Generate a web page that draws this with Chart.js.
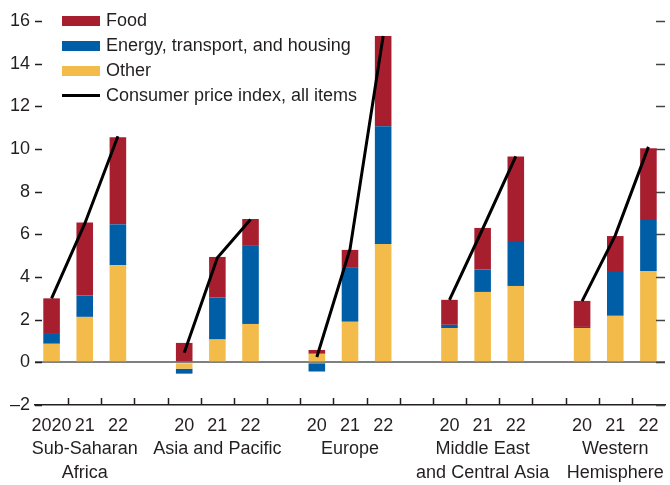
<!DOCTYPE html>
<html>
<head>
<meta charset="utf-8">
<script src="https://cdn.jsdelivr.net/npm/chart.js@4.4.1/dist/chart.umd.min.js"></script>
<style>
  body { margin: 0; background: #fff; }
  #wrap { position: relative; width: 670px; height: 485px; }
  #legend {
    position: absolute; left: 62px; top: 8px;
    font: 18px 'Liberation Sans Narrow', 'Arial Narrow', 'Liberation Sans', sans-serif;
    color: #231f20;
  }
  .item { display: flex; align-items: center; height: 25px; white-space: nowrap; }
  .swatch { width: 38px; height: 10px; margin-right: 6px; }
  .swatch.line { height: 3px; }
</style>
</head>
<body>
<div id="wrap">
  <canvas id="chart" width="670" height="485"></canvas>
  <div id="legend"></div>
</div>
<script>
// regions, each with 2020, 21, 22
const regions = [
    ['Sub-Saharan', 'Africa'],
    ['Asia and Pacific'],
    ['Europe'],
    ['Middle East', 'and Central Asia'],
    ['Western', 'Hemisphere']
];
const years = ['20', '21', '22'];

// contributions, percentage points (3 per region)
const otherValues  = [0.87, 2.13, 4.55,  -0.30, 1.07, 1.80,   0.40, 1.90, 5.55,  1.61, 3.30, 3.58,  1.61, 2.18, 4.28];
const energyValues = [0.46, 1.01, 1.92,  -0.23, 1.97, 3.66,  -0.43, 2.53, 5.52,  0.15, 1.05, 2.11,  0.05, 2.10, 2.39];
const foodValues   = [1.67, 3.41, 4.08,   0.91, 1.90, 1.26,   0.18, 0.84, 4.23,  1.17, 1.95, 3.96,  1.22, 1.64, 3.36];
const cpiValues    = [3.00, 6.50, 10.60,  0.45, 4.90, 6.70,   0.25, 5.30, 15.30, 2.93, 6.25, 9.65,  2.87, 5.95, 10.10];

const colors = { food: '#a71f2f', energy: '#005ea6', other: '#f3bb4a', cpi: '#000000' };
const FONT = "'Liberation Sans Narrow', 'Arial Narrow', 'Liberation Sans', sans-serif";

// put an empty slot between regions
function withGaps(values) {
    const out = [];
    regions.forEach((r, i) => {
        out.push(...values.slice(i * 3, i * 3 + 3));
        if (i < regions.length - 1) out.push(null);
    });
    return out;
}

const labels = [];
regions.forEach((r, i) => {
    labels.push(i === 0 ? '2020' : years[0]);
    labels.push([years[1], ...r]);
    labels.push(years[2]);
    if (i < regions.length - 1) labels.push('');
});

const barStyle = { type: 'bar', barPercentage: 0.5, categoryPercentage: 1, order: 1 };

const datasets = [
    { ...barStyle, label: 'Other', data: withGaps(otherValues), backgroundColor: colors.other },
    { ...barStyle, label: 'Energy, transport, and housing', data: withGaps(energyValues), backgroundColor: colors.energy },
    { ...barStyle, label: 'Food', data: withGaps(foodValues), backgroundColor: colors.food },
    {
        type: 'line', label: 'Consumer price index, all items', data: withGaps(cpiValues),
        borderColor: colors.cpi, borderWidth: 3, pointRadius: 0, tension: 0,
        spanGaps: false, stack: 'cpi', order: 0
    }
];

// short tick marks drawn inward, like the original
const tickMarks = {
    id: 'tickMarks',
    afterDraw(chart) {
        const { ctx, chartArea: a, scales: { x, y } } = chart;
        ctx.save();
        ctx.lineWidth = 1.5;
        ctx.strokeStyle = '#231f20';
        ctx.beginPath();
        y.ticks.forEach(t => {
            const py = Math.round(y.getPixelForValue(t.value)) + 0.5;
            const major = t.value % 2 === 0;
            ctx.moveTo(a.left, py);
            ctx.lineTo(a.left + (major ? 7 : 4), py);
        });
        for (let i = 0; i < labels.length - 1; i++) {
            const px = Math.round((x.getPixelForValue(i) + x.getPixelForValue(i + 1)) / 2) + 0.5;
            ctx.moveTo(px, a.bottom);
            ctx.lineTo(px, a.bottom - 7);
        }
        ctx.stroke();
        ctx.strokeStyle = '#444';
        ctx.beginPath();
        y.ticks.forEach(t => {
            const py = Math.round(y.getPixelForValue(t.value)) + 0.5;
            const major = t.value % 2 === 0;
            ctx.moveTo(a.right, py);
            ctx.lineTo(a.right - (major ? 9 : 5), py);
        });
        ctx.stroke();
        ctx.restore();
    }
};

const chart = new Chart(document.getElementById('chart'), {
    data: { labels, datasets },
    plugins: [tickMarks],
    options: {
        responsive: false,
        animation: false,
        devicePixelRatio: 1,
        layout: { padding: { top: 21, right: 5, left: 0, bottom: 0 } },
        plugins: { legend: { display: false }, tooltip: { enabled: false } },
        scales: {
            x: {
                stacked: true,
                offset: true,
                grid: { display: false },
                border: { display: true, color: '#231f20', width: 1.5 },
                ticks: {
                    autoSkip: false, maxRotation: 0, minRotation: 0, padding: 1,
                    color: '#231f20',
                    font: { family: FONT, size: 18, lineHeight: 23.5 / 18 }
                },
                afterFit: s => { s.height = 80; }
            },
            y: {
                stacked: true,
                min: -2, max: 16,
                border: { display: false },
                grid: {
                    drawTicks: false,
                    lineWidth: 2,
                    color: c => c.tick && c.tick.value === 0 ? '#808080' : 'rgba(0,0,0,0)'
                },
                ticks: {
                    stepSize: 1, padding: 5, color: '#231f20',
                    font: { family: FONT, size: 18 },
                    callback: v => v % 2 !== 0 ? '' : (v < 0 ? '\u2013' + Math.abs(v) : String(v))
                },
                afterFit: s => { s.width = 35; }
            }
        }
    }
});

// legend: Food, Energy, Other, CPI
const legend = document.getElementById('legend');
[2, 1, 0, 3].forEach(i => {
    const ds = datasets[i];
    const item = document.createElement('div');
    item.className = 'item';
    const sw = document.createElement('span');
    sw.className = ds.type === 'line' ? 'swatch line' : 'swatch';
    sw.style.background = ds.type === 'line' ? ds.borderColor : ds.backgroundColor;
    const txt = document.createElement('span');
    txt.textContent = ds.label;
    item.append(sw, txt);
    legend.appendChild(item);
});
</script>
</body>
</html>
